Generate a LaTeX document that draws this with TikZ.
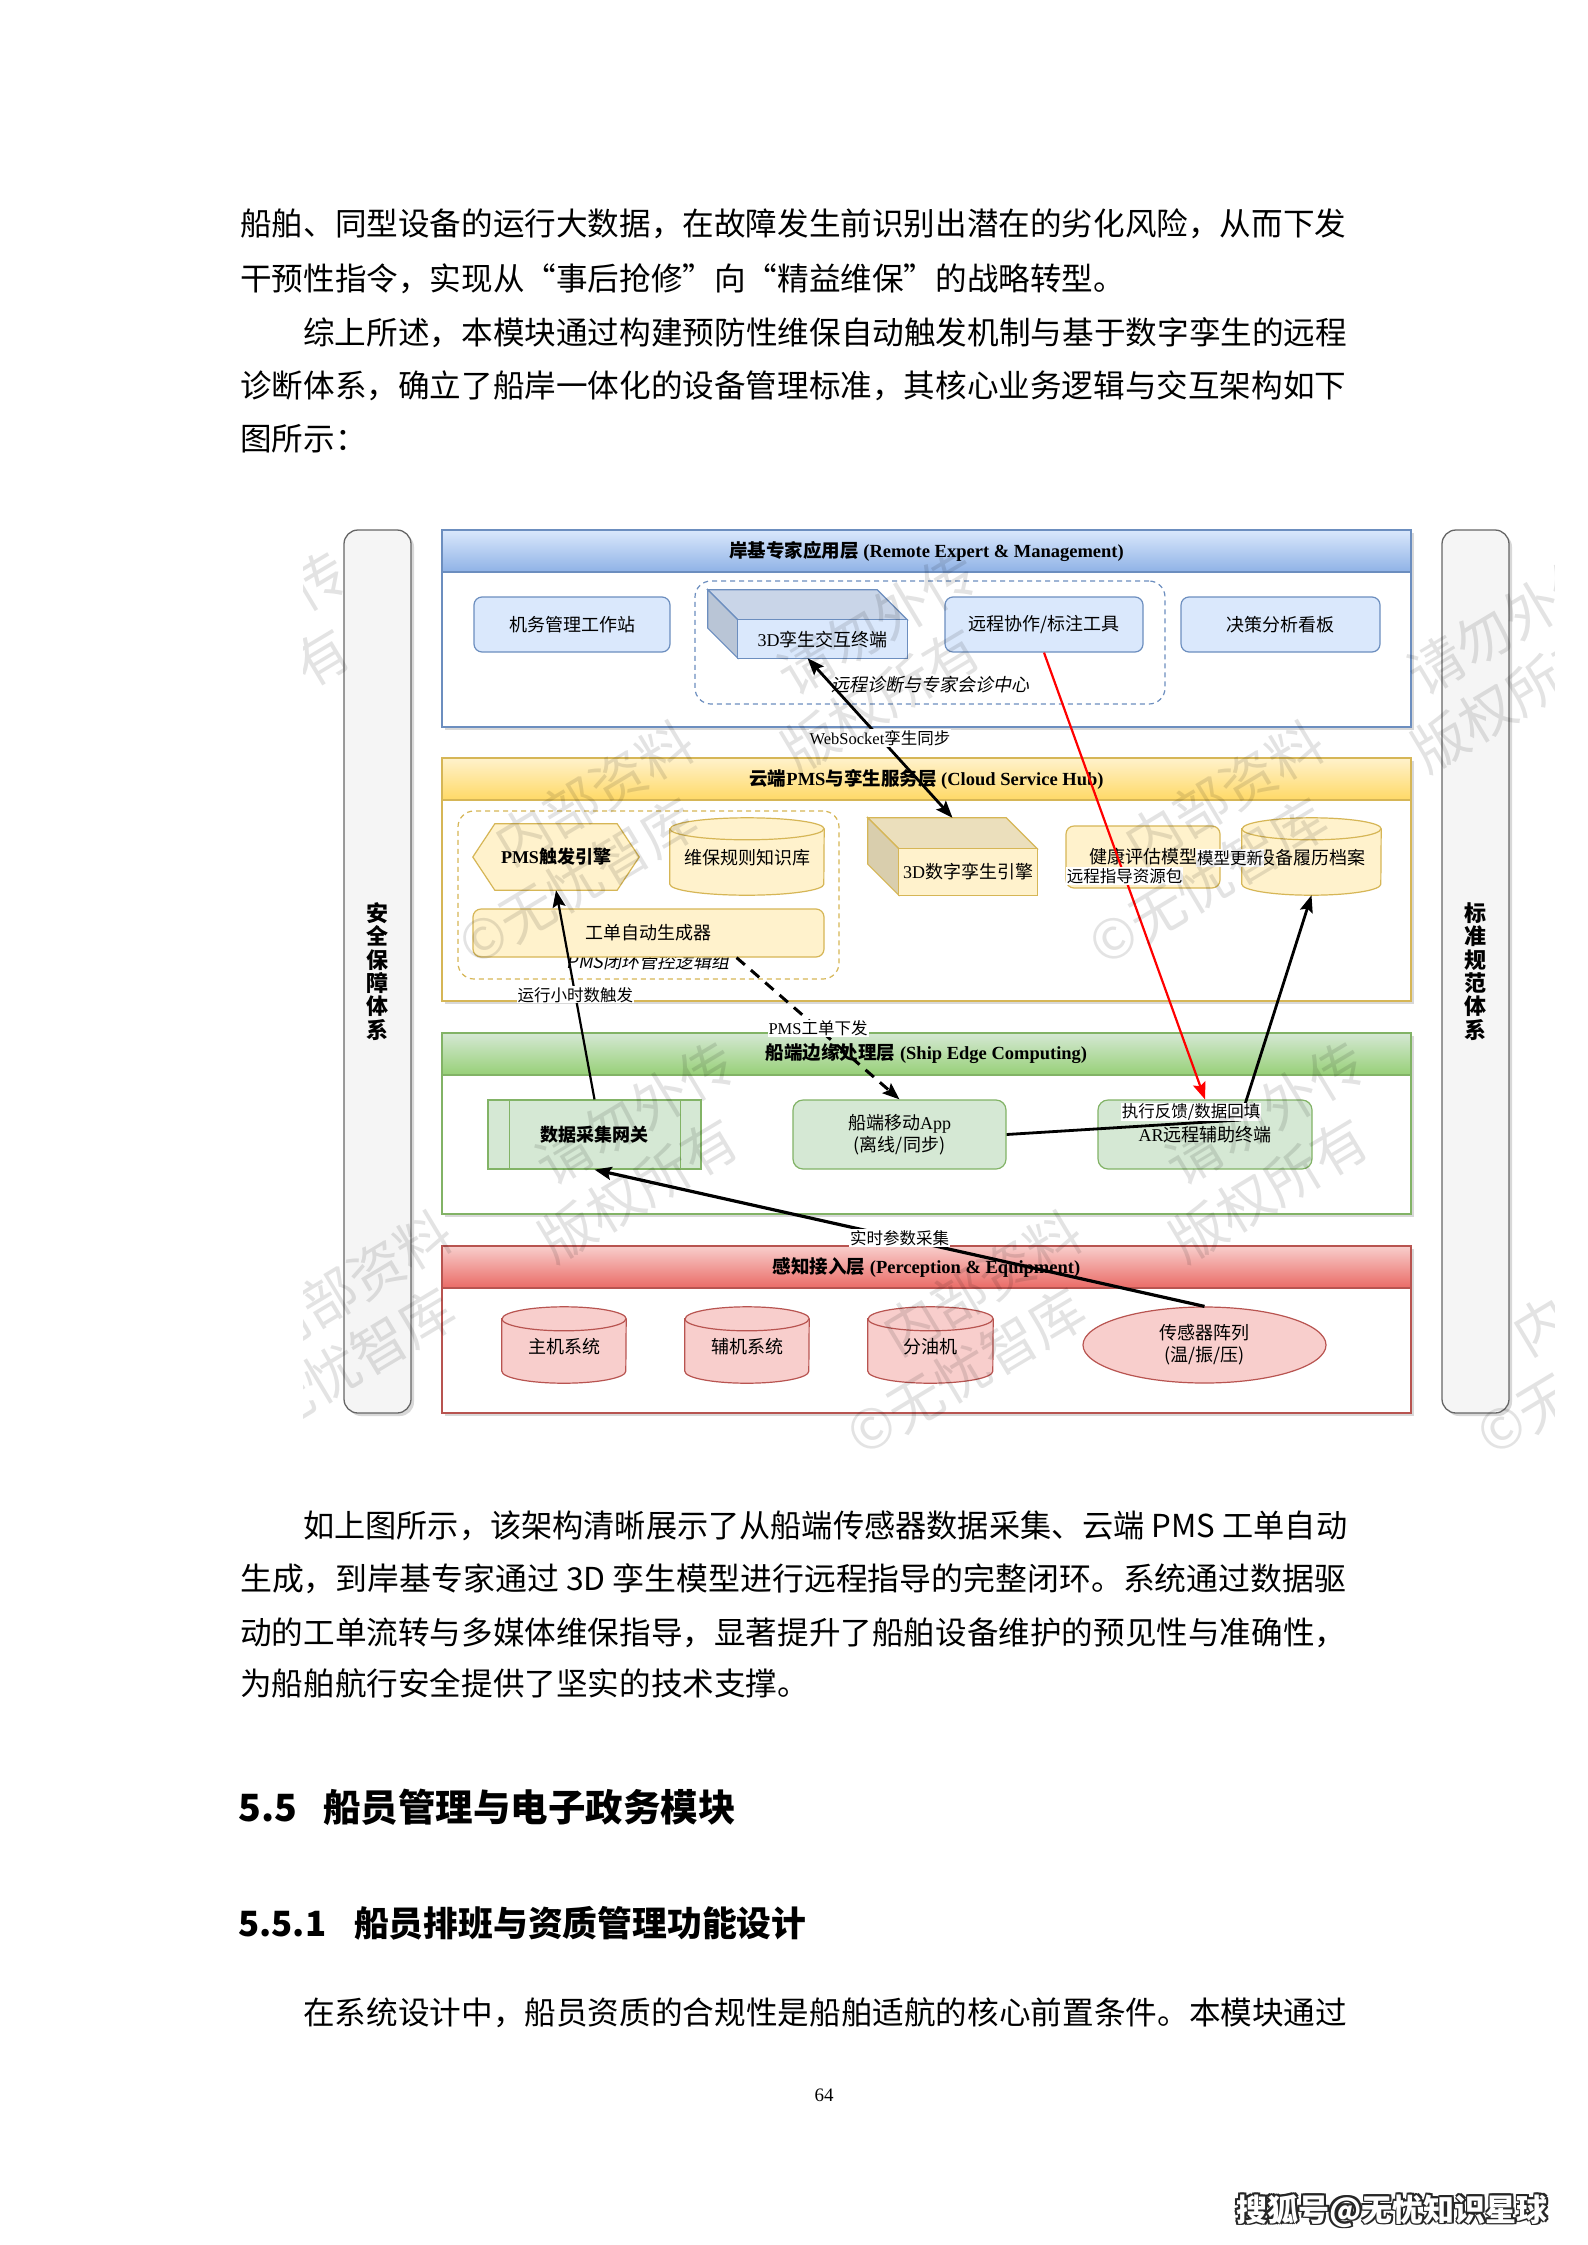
\documentclass[tikz,border=0pt]{standalone}
\usepackage{fontspec}
\usepackage{graphicx}
\setmainfont{Liberation Serif}
\newfontfamily\cjk{Noto Sans CJK SC}
\newfontfamily\cjkit[FakeSlant=0.2]{Noto Sans CJK SC}
\newfontfamily\lat{Liberation Serif}
\usetikzlibrary{shadows,calc,arrows.meta,shapes.geometric}
\definecolor{blueF}{HTML}{DAE8FC}
\definecolor{blueD}{HTML}{6C8EBF}
\definecolor{blueG}{HTML}{8FB2E6}
\definecolor{yelF}{HTML}{FFF2CC}
\definecolor{yelD}{HTML}{D6B656}
\definecolor{yelG}{HTML}{FFD966}
\definecolor{grnF}{HTML}{D5E8D4}
\definecolor{grnD}{HTML}{82B366}
\definecolor{grnG}{HTML}{97D077}
\definecolor{redF}{HTML}{F8CECC}
\definecolor{redD}{HTML}{B85450}
\definecolor{redG}{HTML}{EA6B66}
\definecolor{pilF}{HTML}{F5F5F5}
\definecolor{pilD}{HTML}{666666}
\newlength\fitlen
\newcommand\fitw[2]{\settowidth\fitlen{#2}\pgfmathsetmacro\fitfac{#1/\fitlen}\scalebox{\fitfac}[1]{#2}}
\newcommand\ttl[2]{{\cjk\bfseries #1} {\lat\bfseries #2}}
% cuboid: node, depth, fill, draw
\newcommand\cuboid[4]{%
  \filldraw[fill=#3!92!black, draw=#4, line width=1.2pt] (#1.north west) -- ($(#1.north east)+(-#2,0)$) -- ($(#1.north east)+(0,#2)$) -- ($(#1.north west)+(#2,#2)$) -- cycle;
  \filldraw[fill=#3!85!black, draw=#4, line width=1.2pt] (#1.north west) -- ($(#1.north west)+(#2,#2)$) -- ($(#1.south west)+(#2,0)$) -- ($(#1.south west)+(0,-#2)$) -- cycle;
  \filldraw[fill=#3, draw=#4, line width=1.2pt] ($(#1.north west)+(#2,#2)$) rectangle (#1.south east);}
% cylinder: node, half width, ry, fill, draw
\newcommand\cylin[5]{%
  \filldraw[fill=#4, draw=#5, line width=1.2pt] ($(#1.north west)+(0,#3)$) -- ($(#1.south west)+(0,-#3)$) arc[start angle=180, end angle=0, x radius=#2, y radius=#3] -- ($(#1.north east)+(0,#3)$) arc[start angle=0, end angle=-180, x radius=#2, y radius=#3] -- cycle;
  \draw[draw=#5, line width=1.2pt] ($(#1.north west)+(0,#3)$) arc[start angle=180, end angle=0, x radius=#2, y radius=#3];}
% hexagon: node, inset, fill, draw
\newcommand\hexa[4]{%
  \filldraw[fill=#3, draw=#4, line width=1.2pt] (#1.west) -- ($(#1.north west)+(#2,0)$) -- ($(#1.north east)+(-#2,0)$) -- (#1.east) -- ($(#1.south east)+(-#2,0)$) -- ($(#1.south west)+(#2,0)$) -- cycle;}
\begin{document}
\begin{tikzpicture}[x=1pt,y=-1pt,
  sz/.style 2 args={minimum width=#1pt,minimum height=#2pt},
  bodyt/.style={font=\cjk\fontsize{31.6}{38}\selectfont, anchor=west, inner sep=0pt, text height=27.8pt, text depth=3.8pt},
  dt/.style={font=\cjk\fontsize{18}{22}\selectfont, inner sep=0pt, align=center},
  gl/.style={font=\cjkit\fontsize{18}{22}\selectfont, inner sep=0pt},
  el/.style={font=\cjk\fontsize{16.5}{19}\selectfont, fill=white, text=black, inner sep=1pt},
  bbox/.style={dt, draw=blueD, fill=blueF, rounded corners=8pt, line width=1.2pt},
  ybox/.style={dt, draw=yelD, fill=yelF, rounded corners=8pt, line width=1.2pt},
  gbox/.style={dt, draw=grnD, fill=grnF, rounded corners=10pt, line width=1.2pt},
  gproc/.style={dt, draw=grnD, fill=grnF, line width=1.2pt},
  grp/.style={draw=#1, dash pattern=on 5pt off 4pt, rounded corners=16pt, line width=1.2pt},
  laybody/.style={draw=#1, fill=white, line width=1.3pt, drop shadow={shadow xshift=3pt, shadow yshift=-3pt, opacity=0.3}},
  layhead/.style n args={3}{top color=#1, bottom color=#2, draw=#3, line width=1.2pt, font=\fontsize{18.5}{22}\selectfont, inner sep=0pt},
  pillar/.style={draw=pilD, fill=pilF, rounded corners=14pt, line width=1.3pt, align=center, font=\cjk\bfseries\fontsize{22}{23.3}\selectfont, drop shadow={shadow xshift=3pt, shadow yshift=-3pt, opacity=0.3}},
  tip/.style={-{Stealth[length=17pt,width=13pt,inset=3pt]}},
  conn/.style={tip, line width=2.8pt, black},
  wmt/.style={font=\cjk\fontsize{55}{60}\selectfont, text=black, opacity=0.11, inner sep=0pt, anchor=west, rotate=31},
]
\useasboundingbox (0,0) rectangle (1587,2245);
\fill[white] (0,0) rectangle (1587,2245);

% ---------------- body text ----------------
\node[bodyt] (p1) at (240,223) {\fitw{1106}{船舶、同型设备的运行大数据，在故障发生前识别出潜在的劣化风险，从而下发}};
\node[bodyt] (p2) at (240,278) {干预性指令，实现从“事后抢修”向“精益维保”的战略转型。};
\node[bodyt] (p3) at (303,332) {\fitw{1044}{综上所述，本模块通过构建预防性维保自动触发机制与基于数字孪生的远程}};
\node[bodyt] (p4) at (240,385) {\fitw{1106}{诊断体系，确立了船岸一体化的设备管理标准，其核心业务逻辑与交互架构如下}};
\node[bodyt] (p5) at (240,438) {图所示：};

\node[bodyt] (p6) at (303,1525) {\fitw{1044}{如上图所示，该架构清晰展示了从船端传感器数据采集、云端 PMS 工单自动}};
\node[bodyt] (p7) at (240,1578) {\fitw{1106}{生成，到岸基专家通过 3D 孪生模型进行远程指导的完整闭环。系统通过数据驱}};
\node[bodyt] (p8) at (240,1632) {\fitw{1106}{动的工单流转与多媒体维保指导，显著提升了船舶设备维护的预见性与准确性，}};
\node[bodyt] (p9) at (240,1683) {为船舶航行安全提供了坚实的技术支撑。};

\node[anchor=west, inner sep=0pt, font=\cjk\bfseries\fontsize{37.5}{40}\selectfont] (h1) at (238,1807) {5.5\hspace{0.7em}船员管理与电子政务模块};
\node[anchor=west, inner sep=0pt, font=\cjk\bfseries\fontsize{34.8}{38}\selectfont] (h2) at (238,1923) {5.5.1\hspace{0.8em}船员排班与资质管理功能设计};
\node[bodyt] (p10) at (303,2012) {\fitw{1044}{在系统设计中，船员资质的合规性是船舶适航的核心前置条件。本模块通过}};

\node[font=\lat\fontsize{19}{22}\selectfont, inner sep=0pt] (pg) at (824,2095) {64};

\foreach \dx/\dy [count=\i] in {-1.6/0,1.6/0,0/-1.6,0/1.6,-1.6/1.6,1.6/1.6,-1.6/-1.6,1.6/-1.6}
  \node[anchor=east, inner sep=0pt, text=black!85, font=\cjk\bfseries\fontsize{31}{34}\selectfont] (wms\i) at (1548+\dx,2211+\dy) {搜狐号@无忧知识星球};
\node[anchor=east, inner sep=0pt, text=white, font=\cjk\bfseries\fontsize{31}{34}\selectfont] (wm) at (1548,2211) {搜狐号@无忧知识星球};

% ---------------- pillars ----------------
\node[pillar, sz={67}{883}] (secpil) at (377.5,971.5) {安\\全\\保\\障\\体\\系};
\node[pillar, sz={67}{883}] (stdpil) at (1475.5,971.5) {标\\准\\规\\范\\体\\系};

% ---------------- layers ----------------
\node[laybody=blueD, sz={969}{197}] (lay1) at (926.5,628.5) {};
\node[layhead={blueF}{blueG}{blueD}, sz={969}{42}] (lay1h) at (926.5,551) {\ttl{岸基专家应用层}{(Remote Expert \& Management)}};
\node[laybody=yelD, sz={969}{243}] (lay2) at (926.5,879.5) {};
\node[layhead={yelF}{yelG}{yelD}, sz={969}{42}] (lay2h) at (926.5,779) {\ttl{云端{\lat PMS}与孪生服务层}{(Cloud Service Hub)}};
\node[laybody=grnD, sz={969}{181}] (lay3) at (926.5,1123.5) {};
\node[layhead={grnF}{grnG}{grnD}, sz={969}{42}] (lay3h) at (926.5,1054) {\ttl{船端边缘处理层}{(Ship Edge Computing)}};
\node[laybody=redD, sz={969}{167}] (lay4) at (926.5,1329.5) {};
\node[layhead={redF}{redG}{redD}, sz={969}{42}] (lay4h) at (926.5,1267) {\ttl{感知接入层}{(Perception \& Equipment)}};

% ---------------- layer 1 ----------------
\node[grp=blueD, sz={470}{123}] (grp1) at (930,642.5) {};
\node[gl] (grp1t) at (930,685) {远程诊断与专家会诊中心};
\node[bbox, sz={196}{55}] (jiwu) at (572,624.5) {机务管理工作站};
\node[sz={199}{68}, inner sep=0pt] (term) at (807.5,624) {};
\cuboid{term}{30}{blueF}{blueD}
\node[dt] (termt) at (822.5,639.5) {{\lat 3D}孪生交互终端};
\node[bbox, sz={198}{55}] (ycxz) at (1044,624.5) {远程协作/标注工具};
\node[bbox, sz={199}{55}] (jcfx) at (1280.5,624.5) {决策分析看板};

% ---------------- layer 2 ----------------
\node[grp=yelD, sz={381}{168}] (grp2) at (648.5,895) {};
\node[gl] (grp2t) at (648,962) {PMS闭环管控逻辑组};
\node[sz={166}{66}, inner sep=0pt] (pmstrig) at (556,857) {};
\hexa{pmstrig}{22}{yelF}{yelD}
\node[dt] (pmstrigt) at (556,857) {{\lat\bfseries PMS}\bfseries 触发引擎};
\node[sz={154}{77}, inner sep=0pt] (wbgz) at (747,856.5) {};
\cylin{wbgz}{77}{11}{yelF}{yelD}
\node[dt] (wbgzt) at (747,858) {维保规则知识库};
\node[ybox, sz={351}{48}] (gdsc) at (648.5,933) {工单自动生成器};
\node[sz={169}{77}, inner sep=0pt] (eng) at (952.5,856.5) {};
\cuboid{eng}{31}{yelF}{yelD}
\node[dt] (engt) at (968,872) {{\lat 3D}数字孪生引擎};
\node[ybox, sz={154}{62}] (jkpg) at (1143,857) {健康评估模型};
\node[sz={139}{77}, inner sep=0pt] (dang) at (1311.5,856.5) {};
\cylin{dang}{69.5}{11}{yelF}{yelD}
\node[dt] (dangt) at (1311,858) {设备履历档案};

% ---------------- layer 3 ----------------
\node[gproc, sz={213}{69}] (gw) at (594.5,1134.5) {\bfseries 数据采集网关};
\draw[grnD, line width=1.2pt] ($(gw.north west)+(22,0)$) -- ($(gw.south west)+(22,0)$);
\draw[grnD, line width=1.2pt] ($(gw.north east)+(-21,0)$) -- ($(gw.south east)+(-21,0)$);
\node[gbox, sz={213}{69}] (app) at (899.5,1134.5) {船端移动{\lat App}\\(离线/同步)};
\node[gbox, sz={214}{69}] (ar) at (1205,1134.5) {{\lat AR}远程辅助终端};

% ---------------- layer 4 ----------------
\node[sz={124}{76}, inner sep=0pt] (zj) at (564,1345) {};
\cylin{zj}{62}{12}{redF}{redD}
\node[dt] (zjt) at (564,1347) {主机系统};
\node[sz={124}{76}, inner sep=0pt] (fj) at (747,1345) {};
\cylin{fj}{62}{12}{redF}{redD}
\node[dt] (fjt) at (747,1347) {辅机系统};
\node[sz={125}{76}, inner sep=0pt] (fyj) at (930.5,1345) {};
\cylin{fyj}{62.5}{12}{redF}{redD}
\node[dt] (fyjt) at (930.5,1347) {分油机};
\node[ellipse, draw=redD, fill=redF, line width=1.2pt, sz={243}{76}, dt] (cgq) at (1204.5,1345) {传感器阵列\\(温/振/压)};

% ---------------- connectors ----------------
\draw[conn, {Stealth[length=17pt,width=13pt,inset=3pt]}-{Stealth[length=17pt,width=13pt,inset=3pt]}] (term.south) -- node[el] (wslbl) {{\lat WebSocket}孪生同步} (eng.north);
\draw[conn, line width=2.2pt] (gw.north) -- node[el] (hrlbl) {运行小时数触发} (pmstrig.south);
\draw[conn, line width=3pt, dash pattern=on 11pt off 8pt] ($(gdsc.south west)!0.75!(gdsc.south east)$) -- node[el] (pmslbl) {{\lat PMS}工单下发} (app.north);
\coordinate (fbk) at (1240,1120);
\draw[conn] (app.east) -- (fbk) -- (dang.south);
\node[el] (fblbl) at (1191,1112) {执行反馈/数据回填};
\draw[conn, line width=3.2pt] (cgq.north) -- node[el] (rtlbl) {实时参数采集} (gw.south);
\draw[tip, red, line width=2.2pt] (ycxz.south) -- node[el] (rglbl) {远程指导资源包} (ar.north);
\node[el] (mxgx) at (1230,858) {模型更新};

% ---------------- watermark of the figure ----------------
\begin{scope}
\clip (303,487) rectangle (1554,1461);
\foreach \px/\py [count=\i] in {-130/850, 500/850, 1130/850, 258/1340, 888/1340, 1518/1340} {
  \node[wmt] (wa\i) at (\px,\py) {内部资料\hspace{2em}请勿外传};
  \node[wmt] (wb\i) at (\px-36,\py+100) {©无忧智库\hspace{2em}版权所有};
}
\end{scope}
\end{tikzpicture}
\end{document}
